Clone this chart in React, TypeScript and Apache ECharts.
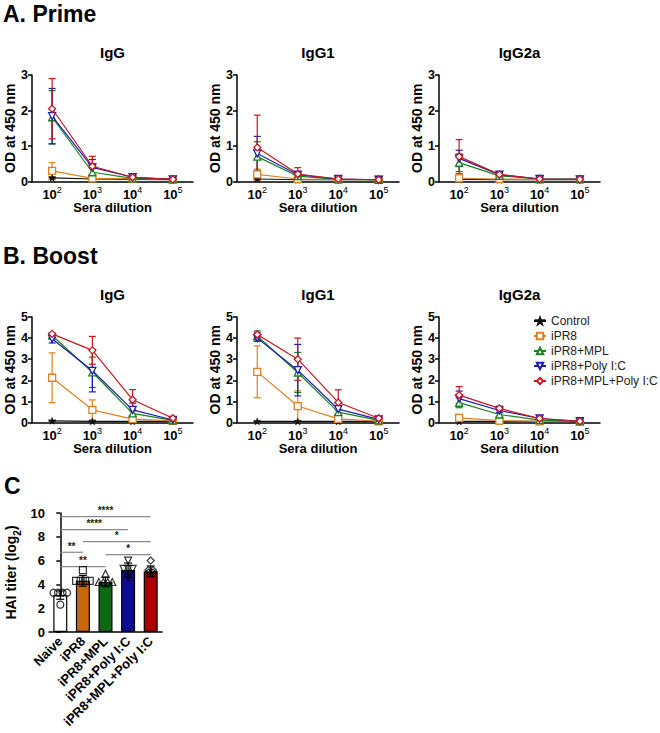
import React, { useEffect, useRef } from "react";
import * as echarts from "echarts";

// ---------- data ----------
const dilutionExponents = ["2", "3", "4", "5"];
const groups = ["Control", "iPR8", "iPR8+MPL", "iPR8+Poly I:C", "iPR8+MPL+Poly I:C"];
const groupColors = ["#111111", "#E2801F", "#17821C", "#1C1CB4", "#C9161F"];

// Prime (rows: Control, iPR8, +MPL, +Poly I:C, +MPL+Poly I:C ; cols: 10^2..10^5)
const primeIgGMean = [
  [0.1, 0.07, 0.06, 0.05],
  [0.3, 0.09, 0.08, 0.06],
  [1.81, 0.26, 0.09, 0.06],
  [1.84, 0.4, 0.12, 0.06],
  [2.05, 0.43, 0.12, 0.06],
];
const primeIgGSd = [
  [0.03, 0.02, 0.01, 0.01],
  [0.23, 0.03, 0.02, 0.01],
  [0.75, 0.1, 0.03, 0.01],
  [0.78, 0.22, 0.04, 0.01],
  [0.85, 0.28, 0.04, 0.01],
];
const primeIgG1Mean = [
  [0.07, 0.05, 0.05, 0.05],
  [0.2, 0.07, 0.06, 0.05],
  [0.7, 0.15, 0.06, 0.05],
  [0.79, 0.19, 0.07, 0.05],
  [0.96, 0.21, 0.07, 0.05],
];
const primeIgG1Sd = [
  [0.02, 0.01, 0.01, 0.01],
  [0.15, 0.02, 0.01, 0.01],
  [0.42, 0.05, 0.02, 0.01],
  [0.48, 0.08, 0.02, 0.01],
  [0.91, 0.18, 0.03, 0.01],
];
const primeIgG2aMean = [
  [0.06, 0.05, 0.05, 0.05],
  [0.09, 0.07, 0.06, 0.06],
  [0.53, 0.16, 0.07, 0.07],
  [0.65, 0.19, 0.07, 0.06],
  [0.7, 0.2, 0.07, 0.06],
];
const primeIgG2aSd = [
  [0.01, 0.01, 0.01, 0.01],
  [0.03, 0.02, 0.01, 0.01],
  [0.25, 0.03, 0.02, 0.01],
  [0.23, 0.04, 0.02, 0.01],
  [0.48, 0.04, 0.02, 0.01],
];

// Boost
const boostIgGMean = [
  [0.08, 0.05, 0.05, 0.05],
  [2.12, 0.6, 0.16, 0.08],
  [4.12, 2.38, 0.43, 0.1],
  [3.97, 2.45, 0.6, 0.12],
  [4.2, 3.42, 1.08, 0.2],
];
const boostIgGSd = [
  [0.02, 0.01, 0.01, 0.01],
  [1.18, 0.47, 0.05, 0.02],
  [0.1, 0.72, 0.12, 0.03],
  [0.2, 1.0, 0.32, 0.04],
  [0.05, 0.66, 0.48, 0.05],
];
const boostIgG1Mean = [
  [0.05, 0.05, 0.05, 0.05],
  [2.4, 0.78, 0.17, 0.06],
  [4.1, 2.37, 0.49, 0.1],
  [4.0, 2.48, 0.63, 0.15],
  [4.17, 3.0, 0.95, 0.2],
];
const boostIgG1Sd = [
  [0.01, 0.01, 0.01, 0.01],
  [1.23, 0.72, 0.05, 0.02],
  [0.24, 0.95, 0.1, 0.03],
  [0.15, 1.22, 0.3, 0.04],
  [0.1, 1.0, 0.6, 0.05],
];
const boostIgG2aMean = [
  [0.05, 0.05, 0.05, 0.05],
  [0.22, 0.09, 0.05, 0.05],
  [0.94, 0.38, 0.11, 0.05],
  [1.13, 0.57, 0.19, 0.06],
  [1.3, 0.67, 0.19, 0.06],
];
const boostIgG2aSd = [
  [0.01, 0.01, 0.01, 0.01],
  [0.16, 0.03, 0.01, 0.01],
  [0.24, 0.08, 0.03, 0.01],
  [0.36, 0.1, 0.04, 0.01],
  [0.4, 0.11, 0.04, 0.01],
];

const primeTicksMax = 3;
const boostTicksMax = 5;

// Panel C: HAI titer
const haiGroups = ["Naive", "iPR8", "iPR8+MPL", "iPR8+Poly I:C", "iPR8+MPL+Poly I:C"];
const haiColors = ["#FFFFFF", "#C8680C", "#0E6A12", "#0B0B96", "#A80000"];
const haiMean = [3.1, 4.3, 4.2, 5.2, 5.1];
const haiSd = [0.35, 0.45, 0.4, 0.6, 0.45];
const haiPoints = [
  [3.3, 3.3, 3.3, 3.3, 2.3],
  [4.3, 4.3, 4.3, 4.3, 5.2],
  [4.2, 4.2, 4.2, 4.2, 4.9],
  [6.0, 5.3, 5.3, 5.3, 4.6],
  [6.0, 5.2, 5.2, 5.0, 5.0],
];
// [from group, to group, y level, label]
const haiComparisons: [number, number, number, string][] = [
  [0, 4, 9.7, "****"],
  [0, 3, 8.6, "****"],
  [1, 4, 7.6, "*"],
  [0, 1, 6.7, "**"],
  [2, 4, 6.5, "*"],
  [0, 2, 5.5, "**"],
];

// ---------- styling helpers ----------
const FONT = "Arial, 'Liberation Sans', Helvetica, sans-serif";
const starPath =
  "path://M12,1 L15,9 L23,9 L16.5,14 L19,22 L12,17 L5,22 L7.5,14 L1,9 L9,9 Z";
const invTriPath = "path://M0,0 L20,0 L10,17 Z";
const groupSymbols = ["star", "rect", "triangle", "invtri", "diamond"];
const symbolFor = (s: string) =>
  s === "star" ? starPath : s === "invtri" ? invTriPath : s;
const haiSymbols = ["circle", "rect", "triangle", "invtri", "diamond"];

const panels = [
  { title: "IgG", mean: primeIgGMean, sd: primeIgGSd, max: primeTicksMax, left: 32, top: 75, width: 161, height: 106.5 },
  { title: "IgG1", mean: primeIgG1Mean, sd: primeIgG1Sd, max: primeTicksMax, left: 237, top: 75, width: 162, height: 106.5 },
  { title: "IgG2a", mean: primeIgG2aMean, sd: primeIgG2aSd, max: primeTicksMax, left: 439, top: 75, width: 161, height: 106.5 },
  { title: "IgG", mean: boostIgGMean, sd: boostIgGSd, max: boostTicksMax, left: 32, top: 317, width: 161, height: 105.5 },
  { title: "IgG1", mean: boostIgG1Mean, sd: boostIgG1Sd, max: boostTicksMax, left: 237, top: 317, width: 162, height: 105.5 },
  { title: "IgG2a", mean: boostIgG2aMean, sd: boostIgG2aSd, max: boostTicksMax, left: 439, top: 317, width: 161, height: 105.5 },
];

const axisLineStyle = { lineStyle: { color: "#000", width: 1.5 } };
const boldLabel = { color: "#000", fontWeight: "bold" as const, fontFamily: FONT };

function errorRender(colorOf: (g: number) => string, hw: number) {
  return (params: any, api: any) => {
    const x = api.value(0);
    const m = api.value(1);
    const s = api.value(2);
    const g = api.value(3);
    const top = api.coord([x, m + s]);
    const lo = Math.max(0, m - s);
    const bot = api.coord([x, lo]);
    const style = { stroke: colorOf(g), lineWidth: 1.2 };
    const children: any[] = [
      { type: "line", shape: { x1: top[0], y1: top[1], x2: bot[0], y2: bot[1] }, style },
      { type: "line", shape: { x1: top[0] - hw, y1: top[1], x2: top[0] + hw, y2: top[1] }, style },
    ];
    if (lo > 0) {
      children.push({ type: "line", shape: { x1: bot[0] - hw, y1: bot[1], x2: bot[0] + hw, y2: bot[1] }, style });
    }
    return { type: "group", children };
  };
}

function buildOption() {
  const grid: any[] = [];
  const xAxis: any[] = [];
  const yAxis: any[] = [];
  const series: any[] = [];
  const graphic: any[] = [];

  panels.forEach((p, i) => {
    grid.push({ left: p.left, top: p.top, width: p.width, height: p.height, outerBoundsMode: "none" });
    xAxis.push({
      type: "category",
      gridIndex: i,
      data: dilutionExponents,
      boundaryGap: true,
      axisLine: axisLineStyle,
      axisTick: { alignWithLabel: true, interval: 0, length: 4, lineStyle: { color: "#000", width: 1.5 } },
      axisLabel: {
        interval: 0,
        hideOverlap: false,
        margin: 4,
        formatter: (v: string) => `{b|10}{s|${v}}`,
        rich: {
          b: { ...boldLabel, fontSize: 13, lineHeight: 15, verticalAlign: "bottom" },
          s: { color: "#000", fontFamily: FONT, fontSize: 9, lineHeight: 15, verticalAlign: "top" },
        },
      },
      name: "Sera dilution",
      nameLocation: "middle",
      nameGap: 18,
      nameTextStyle: { ...boldLabel, fontSize: 13 },
    });
    yAxis.push({
      type: "value",
      gridIndex: i,
      min: 0,
      max: p.max,
      interval: 1,
      splitLine: { show: false },
      axisLine: { show: true, ...axisLineStyle },
      axisTick: { show: true, length: 4, lineStyle: { color: "#000", width: 1.5 } },
      axisLabel: { ...boldLabel, fontSize: 12.5, margin: 4 },
      name: "OD at 450 nm",
      nameLocation: "middle",
      nameRotate: 90,
      nameGap: 15,
      nameTextStyle: { ...boldLabel, fontSize: 14 },
    });
    const errData: number[][] = [];
    p.mean.forEach((row, g) => {
      row.forEach((v, j) => errData.push([j, v, p.sd[g][j], g]));
    });
    series.push({
      type: "custom",
      name: "err" + i,
      xAxisIndex: i,
      yAxisIndex: i,
      data: errData,
      renderItem: errorRender((g) => groupColors[g], 3.5),
      z: 2,
      silent: true,
    });
    p.mean.forEach((row, g) => {
      series.push({
        type: "line",
        name: groups[g],
        xAxisIndex: i,
        yAxisIndex: i,
        data: row,
        symbol: symbolFor(groupSymbols[g]),
        symbolSize: 7,
        lineStyle: { color: groupColors[g], width: 1.2 },
        itemStyle: g === 0
          ? { color: groupColors[g], borderColor: groupColors[g], borderWidth: 0.5 }
          : { color: "#fff", borderColor: groupColors[g], borderWidth: 1.3 },
        z: 3 + g,
      });
    });
    graphic.push({
      type: "text",
      x: p.left + p.width / 2,
      y: p.top - 23,
      style: { text: p.title, font: `bold 15px ${FONT}`, fill: "#000", align: "center", verticalAlign: "middle" },
    });
  });

  // Panel C
  const ci = panels.length;
  grid.push({ left: 49, top: 513, width: 113, height: 119, outerBoundsMode: "none" });
  xAxis.push({
    type: "category",
    gridIndex: ci,
    data: haiGroups,
    boundaryGap: true,
    axisLine: axisLineStyle,
    axisTick: { alignWithLabel: true, interval: 0, length: 4, lineStyle: { color: "#000", width: 1.5 } },
    axisLabel: { ...boldLabel, fontSize: 13, rotate: 45, margin: 7, interval: 0 },
  });
  xAxis.push({
    type: "value",
    gridIndex: ci,
    min: -0.5,
    max: 4.5,
    show: false,
  });
  yAxis.push({
    type: "value",
    gridIndex: ci,
    min: 0,
    max: 10,
    interval: 2,
    splitLine: { show: false },
    axisLine: { show: true, ...axisLineStyle },
    axisTick: { show: true, length: 4, lineStyle: { color: "#000", width: 1.5 } },
    axisLabel: { ...boldLabel, fontSize: 13, margin: 4 },
    name: "{a|HAI titer (log}{s|2}{a|)}",
    nameLocation: "middle",
    nameRotate: 90,
    nameGap: 27,
    nameTextStyle: {
      ...boldLabel,
      fontSize: 14,
      rich: {
        a: { ...boldLabel, fontSize: 14, lineHeight: 18, verticalAlign: "top" },
        s: { ...boldLabel, fontSize: 10, lineHeight: 18, verticalAlign: "bottom" },
      },
    },
  });
  series.push({
    type: "bar",
    name: "HAI",
    xAxisIndex: ci,
    yAxisIndex: ci,
    barWidth: 14,
    data: haiMean.map((v, i) => ({
      value: v,
      itemStyle: { color: haiColors[i], borderColor: "#000", borderWidth: 1.2 },
    })),
    z: 2,
  });
  series.push({
    type: "custom",
    name: "haiErr",
    xAxisIndex: ci,
    yAxisIndex: ci,
    data: haiMean.map((v, i) => [i, v, haiSd[i], i]),
    renderItem: errorRender(() => "#000", 4),
    z: 4,
    silent: true,
  });
  haiPoints.forEach((pts, gi) => {
    const data: number[][] = [];
    const seen: Record<string, number> = {};
    const counts: Record<string, number> = {};
    pts.forEach((v) => (counts[v] = (counts[v] || 0) + 1));
    pts.forEach((v) => {
      const k = counts[v];
      const idx = seen[v] || 0;
      seen[v] = idx + 1;
      data.push([gi + (idx - (k - 1) / 2) * 0.2, v]);
    });
    series.push({
      type: "scatter",
      name: "pts" + gi,
      xAxisIndex: ci + 1,
      yAxisIndex: ci,
      data,
      symbol: symbolFor(haiSymbols[gi]),
      symbolSize: 7,
      itemStyle: { color: "rgba(0,0,0,0)", borderColor: "#000", borderWidth: 1.2 },
      z: 5,
    });
  });
  series.push({
    type: "custom",
    name: "sig",
    xAxisIndex: ci + 1,
    yAxisIndex: ci,
    data: haiComparisons.map((c) => [c[0], c[1], c[2]]),
    renderItem: (params: any, api: any) => {
      const a = api.coord([api.value(0), api.value(2)]);
      const b = api.coord([api.value(1), api.value(2)]);
      const label = haiComparisons[params.dataIndex][3];
      return {
        type: "group",
        children: [
          { type: "line", shape: { x1: a[0], y1: a[1], x2: b[0], y2: b[1] }, style: { stroke: "#8a8a8a", lineWidth: 1.2 } },
          {
            type: "text",
            x: (a[0] + b[0]) / 2,
            y: a[1] - 1,
            style: { text: label, font: `bold 10px ${FONT}`, fill: "#222", align: "center", verticalAlign: "bottom" },
          },
        ],
      };
    },
    z: 3,
    silent: true,
  });

  graphic.push(
    { type: "text", x: 3, y: 14, style: { text: "A. Prime", font: `bold 23px ${FONT}`, fill: "#000", verticalAlign: "middle" } },
    { type: "text", x: 3, y: 256, style: { text: "B. Boost", font: `bold 23px ${FONT}`, fill: "#000", verticalAlign: "middle" } },
    { type: "text", x: 4, y: 486, style: { text: "C", font: `bold 23px ${FONT}`, fill: "#000", verticalAlign: "middle" } }
  );

  return {
    animation: false,
    backgroundColor: "#fff",
    textStyle: { fontFamily: FONT },
    grid,
    xAxis,
    yAxis,
    series,
    graphic,
    legend: {
      data: groups,
      orient: "vertical",
      left: 528,
      top: 309,
      itemWidth: 12,
      itemHeight: 8,
      itemGap: 1,
      textStyle: { fontSize: 12, color: "#222", fontFamily: FONT, lineHeight: 14 },
      selectedMode: false,
    },
  };
}

export default function App() {
  const ref = useRef<HTMLDivElement>(null);
  useEffect(() => {
    if (!ref.current) return;
    const chart = echarts.init(ref.current, undefined, { renderer: "svg" });
    chart.setOption(buildOption() as any);
    return () => chart.dispose();
  }, []);
  return (
    <div
      ref={ref}
      style={{ position: "absolute", left: 0, top: 0, width: 660, height: 733, background: "#fff" }}
    />
  );
}
